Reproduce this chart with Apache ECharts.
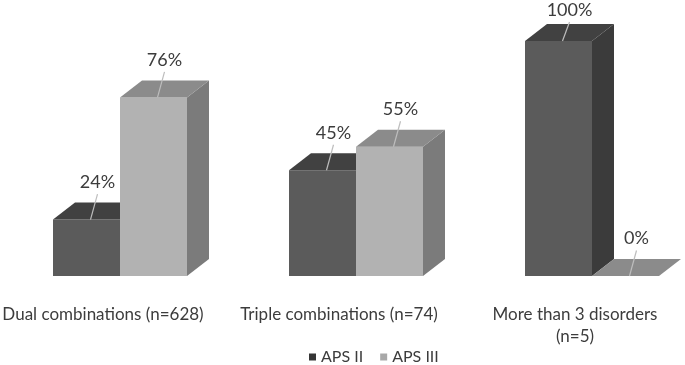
<!DOCTYPE html>
<html>
<head>
<meta charset="utf-8">
<script src="https://cdn.jsdelivr.net/npm/echarts@6/dist/echarts.min.js"></script>
<style>
  html, body { margin: 0; padding: 0; background: #fff; }
  #chart { width: 685px; height: 365px; }
</style>
</head>
<body>
<div id="chart"></div>
<script>
  var categories = ['Dual combinations (n=628)', 'Triple combinations (n=74)', 'More than 3 disorders\n(n=5)'];
  var seriesNames = ['APS II', 'APS III'];
  var apsII = [24, 45, 100];
  var apsIII = [76, 55, 0];

  var font = 'Lato, "Open Sans", sans-serif';

  // colours for each series: front, top, side, legend
  var shades = [
    { front: '#5b5b5b', top: '#414141', side: '#3b3b3b', legend: '#353535' },
    { front: '#b2b2b2', top: '#8b8b8b', side: '#7b7b7b', legend: '#a8a8a8' }
  ];

  var makeRender = function (idx) {
    var col = shades[idx];
    return function (params, api) {
      var cat = api.value(0);
      var val = api.value(1);
      var top = api.coord([cat, val]);
      var base = api.coord([cat, 0]);
      var w = 67, dx = 22, dy = -17, shift = 17;

      var x0 = top[0] + shift + (idx === 0 ? -w : 0);
      var x1 = x0 + w;
      var yt = top[1], yb = base[1];

      var cx = (x0 + x1) / 2 + dx / 2;
      var ly = Math.max(yt + dy / 2 - 29, 10);

      return {
        type: 'group',
        children: [
          {
            type: 'polygon',
            shape: { points: [[x1, yt], [x1 + dx, yt + dy], [x1 + dx, yb + dy], [x1, yb]] },
            style: { fill: col.side }
          },
          {
            type: 'rect',
            shape: { x: x0, y: yt, width: w, height: yb - yt },
            style: { fill: col.front }
          },
          {
            type: 'polygon',
            shape: { points: [[x0, yt], [x1, yt], [x1 + dx, yt + dy], [x0 + dx, yt + dy]] },
            style: { fill: col.top }
          },
          {
            type: 'line',
            shape: { x1: cx - 7, y1: yt, x2: cx, y2: ly + 12 },
            style: { stroke: '#bdbdbd', lineWidth: 1.2 }
          },
          {
            type: 'text',
            style: {
              text: val + '%',
              x: cx,
              y: ly,
              align: 'center',
              verticalAlign: 'middle',
              fill: '#3c3c3c',
              font: '18px ' + font
            }
          }
        ]
      };
    };
  };

  var toPoints = function (arr) {
    return arr.map(function (v, i) { return [i, v]; });
  };

  var chart = echarts.init(document.getElementById('chart'));

  var option = {
    animation: false,
    backgroundColor: '#ffffff',
    grid: { left: -15, width: 708, top: 41, bottom: 89, outerBoundsMode: 'none' },
    legend: {
      data: seriesNames,
      left: 304,
      top: 344,
      icon: 'rect',
      itemWidth: 7,
      itemHeight: 7,
      itemGap: 17,
      textStyle: { color: '#3c3c3c', fontSize: 16, fontFamily: font }
    },
    xAxis: {
      type: 'category',
      data: categories,
      axisLine: { show: false },
      axisTick: { show: false },
      axisLabel: {
        interval: 0,
        margin: 28,
        color: '#3c3c3c',
        fontSize: 17,
        lineHeight: 22,
        fontFamily: font
      }
    },
    yAxis: {
      type: 'value',
      min: 0,
      max: 100,
      show: false,
      splitLine: { show: false }
    },
    series: [
      {
        name: seriesNames[0],
        type: 'custom',
        z: 2,
        itemStyle: { color: shades[0].legend },
        encode: { x: 0, y: 1 },
        renderItem: makeRender(0),
        data: toPoints(apsII)
      },
      {
        name: seriesNames[1],
        type: 'custom',
        z: 3,
        itemStyle: { color: shades[1].legend },
        encode: { x: 0, y: 1 },
        renderItem: makeRender(1),
        data: toPoints(apsIII)
      }
    ]
  };

  chart.setOption(option);
</script>
</body>
</html>
